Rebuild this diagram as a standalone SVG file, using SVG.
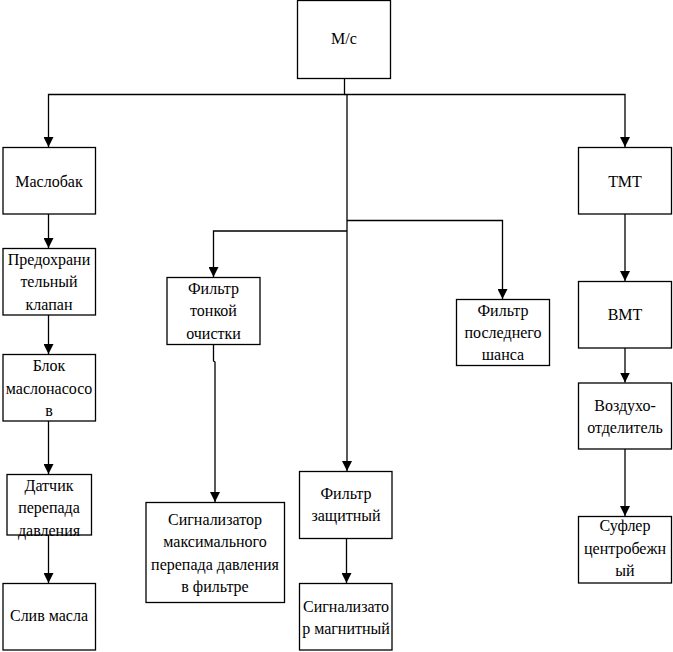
<svg xmlns="http://www.w3.org/2000/svg" width="673" height="652" viewBox="0 0 673 652">
<style>
.box{fill:#fff;stroke:#000;stroke-width:1.3}
.c{fill:none;stroke:#000;stroke-width:1.3}
</style>
<defs>
<marker id="ah" markerUnits="userSpaceOnUse" markerWidth="10" markerHeight="10" refX="7" refY="3.5" orient="auto" viewBox="0 0 7 7">
<path d="M0,0 L7,3.5 L0,7 z" fill="#000"/>
</marker>
</defs>
<rect width="673" height="652" fill="#fff"/>
<g id="connectors">
<polyline class="c" points="344.5,78 344.5,94.5 48.5,94.5 48.5,147" marker-end="url(#ah)"/>
<polyline class="c" points="344.5,94.5 625,94.5 625,147" marker-end="url(#ah)"/>
<polyline class="c" points="347,94.5 347,471" marker-end="url(#ah)"/>
<polyline class="c" points="347,220.5 502.5,220.5 502.5,299" marker-end="url(#ah)"/>
<polyline class="c" points="347,231 213.5,231 213.5,277" marker-end="url(#ah)"/>
<polyline class="c" points="213.5,345 213.5,361 215,362 215,502" marker-end="url(#ah)"/>
<line class="c" x1="48.5" y1="214" x2="48.5" y2="248" marker-end="url(#ah)"/>
<line class="c" x1="48.5" y1="315" x2="48.5" y2="354" marker-end="url(#ah)"/>
<line class="c" x1="48.5" y1="421" x2="48.5" y2="474" marker-end="url(#ah)"/>
<line class="c" x1="48.5" y1="535" x2="48.5" y2="583" marker-end="url(#ah)"/>
<line class="c" x1="346.5" y1="538" x2="346.5" y2="583" marker-end="url(#ah)"/>
<line class="c" x1="625" y1="214" x2="625" y2="281" marker-end="url(#ah)"/>
<line class="c" x1="625" y1="348" x2="625" y2="382.5" marker-end="url(#ah)"/>
<line class="c" x1="625" y1="449" x2="625" y2="516" marker-end="url(#ah)"/>
</g>
<g id="nodes-all" font-family="Liberation Serif" font-size="16" text-anchor="middle" fill="#000">
<g id="ms">
<rect class="box" x="297.5" y="0.5" width="93" height="78"/>
<text x="344" y="44">М/с</text>
</g>
<g id="maslobak">
<rect class="box" x="3" y="147.5" width="92.5" height="66.5"/>
<text x="49" y="187">Маслобак</text>
</g>
<g id="predohr">
<rect class="box" x="3" y="248.5" width="92.5" height="66.5"/>
<text x="49" y="264.5">Предохрани</text>
<text x="49" y="287">тельный</text>
<text x="49" y="309.5">клапан</text>
</g>
<g id="blok">
<rect class="box" x="3" y="354.5" width="92.5" height="66.5"/>
<text x="49" y="371">Блок</text>
<text x="49" y="393.5">маслонасосо</text>
<text x="49" y="416">в</text>
</g>
<g id="datchik">
<rect class="box" x="7" y="474.5" width="84.5" height="60.5"/>
<text x="49" y="490.5">Датчик</text>
<text x="49" y="513">перепада</text>
<text x="49" y="535.5">давления</text>
</g>
<g id="sliv">
<rect class="box" x="3" y="583.5" width="92.5" height="66.5"/>
<text x="49" y="621">Слив масла</text>
</g>
<g id="filtr-tonk">
<rect class="box" x="167" y="277.5" width="93" height="67"/>
<text x="213.5" y="293.5">Фильтр</text>
<text x="213.5" y="316">тонкой</text>
<text x="213.5" y="338.5">очистки</text>
</g>
<g id="signal-max">
<rect class="box" x="146" y="502.5" width="138.5" height="100"/>
<text x="215" y="524.5">Сигнализатор</text>
<text x="215" y="547">максимального</text>
<text x="215" y="569.5">перепада давления</text>
<text x="215" y="592">в фильтре</text>
</g>
<g id="filtr-zasch">
<rect class="box" x="299.5" y="471.5" width="92.5" height="67"/>
<text x="346" y="498.5">Фильтр</text>
<text x="346" y="521">защитный</text>
</g>
<g id="signal-magn">
<rect class="box" x="299.5" y="583.5" width="92.5" height="66.5"/>
<text x="346" y="611.5">Сигнализато</text>
<text x="346" y="634">р магнитный</text>
</g>
<g id="filtr-posl">
<rect class="box" x="456.5" y="299.5" width="93" height="66"/>
<text x="503" y="315.5">Фильтр</text>
<text x="503" y="338">последнего</text>
<text x="503" y="360">шанса</text>
</g>
<g id="tmt">
<rect class="box" x="578.5" y="147.5" width="93" height="66.5"/>
<text x="625" y="187">ТМТ</text>
</g>
<g id="vmt">
<rect class="box" x="578.5" y="281.5" width="93" height="66.5"/>
<text x="625" y="319.5">ВМТ</text>
</g>
<g id="vozduh">
<rect class="box" x="578.5" y="383" width="93" height="66"/>
<text x="625" y="411">Воздухо-</text>
<text x="625" y="433">отделитель</text>
</g>
<g id="sufler">
<rect class="box" x="578.5" y="516.5" width="93" height="66.5"/>
<text x="625" y="531">Суфлер</text>
<text x="625" y="553.5">центробежн</text>
<text x="625" y="576">ый</text>
</g>
</g>
</svg>
